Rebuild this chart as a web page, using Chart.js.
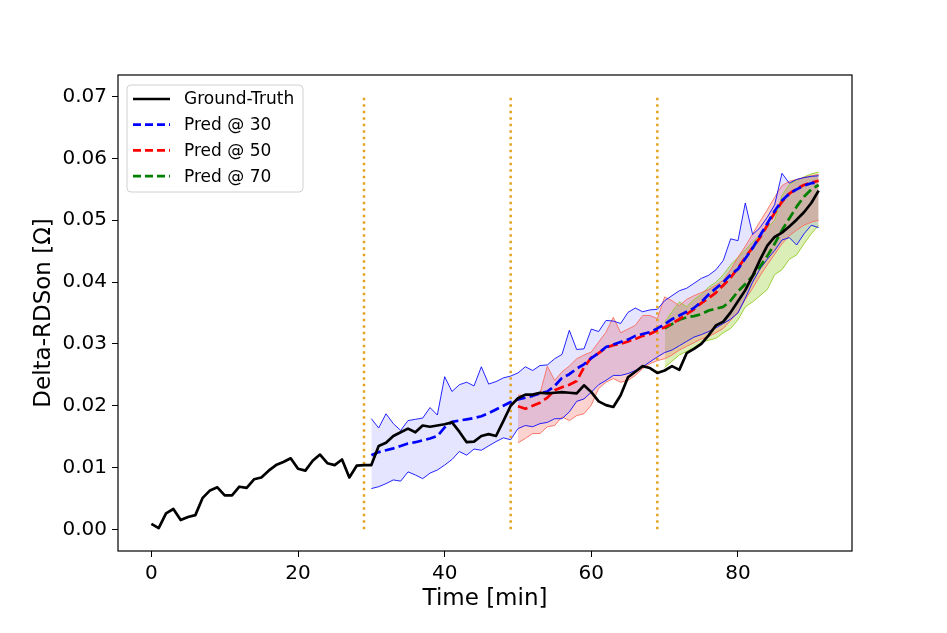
<!DOCTYPE html>
<html>
<head>
<meta charset="utf-8">
<script src="https://cdn.jsdelivr.net/npm/chart.js@4.4.0/dist/chart.umd.min.js"></script>
<style>
  body { margin: 0; background: #fff; }
  #wrap { width: 947px; height: 633px; }
</style>
</head>
<body>
<div id="wrap"><canvas id="grafico" width="947" height="633"></canvas></div>
<script>
// time in minutes
const time = [0,1,2,3,4,5,6,7,8,9,10,11,12,13,14,15,16,17,18,19,20,21,22,23,24,25,26,27,28,29,
  30,31,32,33,34,35,36,37,38,39,40,41,42,43,44,45,46,47,48,49,50,51,52,53,54,55,56,57,58,59,
  60,61,62,63,64,65,66,67,68,69,70,71,72,73,74,75,76,77,78,79,80,81,82,83,84,85,86,87,88,89,90,91];

const groundTruth = [0.0009,0.0002,0.0026,0.0033,0.0015,0.0020,0.0023,0.0051,0.0063,0.0068,
  0.0055,0.0055,0.0069,0.0067,0.0081,0.0084,0.0095,0.0104,0.0109,0.0115,
  0.0098,0.0095,0.0111,0.0121,0.0107,0.0104,0.0113,0.0084,0.0103,0.0104,
  0.0104,0.0135,0.0140,0.0151,0.0157,0.0163,0.0157,0.0168,0.0166,0.0168,
  0.0170,0.0173,0.0158,0.0141,0.0142,0.0151,0.0154,0.0151,0.0175,0.0200,
  0.0212,0.0218,0.0218,0.0221,0.0220,0.0221,0.0222,0.0221,0.0220,0.0233,
  0.0222,0.0207,0.0201,0.0198,0.0217,0.0246,0.0255,0.0264,0.0261,0.0253,
  0.0257,0.0264,0.0258,0.0285,0.0292,0.0300,0.0314,0.0330,0.0336,0.0351,
  0.0369,0.0387,0.0410,0.0436,0.0459,0.0473,0.0480,0.0490,0.0501,0.0513,
  0.0528,0.0548];

// Pred @ 30 (from t = 30)
const start30 = 30;
const pred30 = [0.0120,0.0125,0.0128,0.0131,0.0135,0.0139,0.0141,0.0144,0.0147,0.0151,
  0.0165,0.0174,0.0176,0.0178,0.0180,0.0183,0.0188,0.0194,0.0200,0.0206,
  0.0210,0.0213,0.0216,0.0220,0.0223,0.0232,0.0245,0.0251,0.0260,0.0267,
  0.0277,0.0285,0.0295,0.0299,0.0303,0.0307,0.0313,0.0316,0.0319,0.0325,
  0.0332,0.0340,0.0346,0.0352,0.0358,0.0368,0.0380,0.0390,0.0400,0.0412,
  0.0421,0.0438,0.0455,0.0475,0.0495,0.0515,0.0532,0.0543,0.0550,0.0556,
  0.0560,0.0561];
const pred30Upper = [0.0179,0.0164,0.0187,0.0171,0.0160,0.0176,0.0178,0.0180,0.0197,0.0185,
  0.0247,0.0223,0.0234,0.0238,0.0232,0.0263,0.0235,0.0239,0.0245,0.0248,
  0.0253,0.0263,0.0257,0.0265,0.0266,0.0276,0.0283,0.0322,0.0291,0.0292,
  0.0324,0.0320,0.0338,0.0337,0.0333,0.0351,0.0358,0.0352,0.0355,0.0356,
  0.0370,0.0378,0.0386,0.0390,0.0398,0.0406,0.0411,0.0420,0.0435,0.0470,
  0.0467,0.0528,0.0477,0.0488,0.0505,0.0525,0.0576,0.0560,0.0566,0.0569,
  0.0571,0.0572];
const pred30Lower = [0.0066,0.0069,0.0074,0.0080,0.0078,0.0093,0.0088,0.0082,0.0091,0.0096,
  0.0104,0.0113,0.0126,0.0120,0.0130,0.0128,0.0135,0.0142,0.0148,0.0145,
  0.0163,0.0168,0.0166,0.0171,0.0173,0.0179,0.0179,0.0190,0.0207,0.0211,
  0.0222,0.0234,0.0241,0.0249,0.0249,0.0252,0.0257,0.0263,0.0271,0.0279,
  0.0286,0.0290,0.0297,0.0304,0.0311,0.0315,0.0320,0.0326,0.0333,0.0340,
  0.0350,0.0374,0.0400,0.0421,0.0437,0.0451,0.0468,0.0472,0.0460,0.0478,
  0.0492,0.0488];

// Pred @ 50 (from t = 50)
const start50 = 50;
const pred50 = [0.0199,0.0195,0.0200,0.0205,0.0213,0.0225,0.0230,0.0234,0.0240,0.0262,
  0.0278,0.0285,0.0294,0.0298,0.0300,0.0304,0.0308,0.0313,0.0316,0.0322,
  0.0327,0.0333,0.0340,0.0348,0.0356,0.0366,0.0374,0.0383,0.0395,0.0407,
  0.0423,0.0440,0.0456,0.0472,0.0492,0.0512,0.0530,0.0543,0.0551,0.0557,
  0.0561,0.0564];
const pred50Upper = [0.0217,0.0217,0.0217,0.0220,0.0264,0.0241,0.0255,0.0264,0.0276,0.0282,
  0.0287,0.0303,0.0319,0.0343,0.0318,0.0324,0.0330,0.0346,0.0346,0.0341,
  0.0376,0.0370,0.0362,0.0372,0.0378,0.0383,0.0388,0.0395,0.0403,0.0420,
  0.0440,0.0458,0.0478,0.0498,0.0517,0.0537,0.0556,0.0563,0.0566,0.0569,
  0.0572,0.0574];
const pred50Lower = [0.0140,0.0147,0.0155,0.0155,0.0166,0.0168,0.0182,0.0176,0.0184,0.0187,
  0.0201,0.0228,0.0238,0.0244,0.0238,0.0241,0.0249,0.0260,0.0268,0.0273,
  0.0276,0.0282,0.0290,0.0296,0.0302,0.0308,0.0312,0.0318,0.0325,0.0338,
  0.0352,0.0372,0.0390,0.0410,0.0428,0.0445,0.0462,0.0475,0.0484,0.0492,
  0.0497,0.0500];

// Pred @ 70 (from t = 70)
const start70 = 70;
const pred70 = [0.0325,0.0332,0.0339,0.0343,0.0345,0.0348,0.0354,0.0357,0.0360,0.0370,
  0.0385,0.0397,0.0410,0.0425,0.0442,0.0462,0.0484,0.0503,0.0522,0.0538,
  0.0550,0.0557];
const pred70Upper = [0.0335,0.0352,0.0368,0.0360,0.0372,0.0380,0.0392,0.0400,0.0412,0.0428,
  0.0440,0.0452,0.0465,0.0476,0.0488,0.0500,0.0540,0.0558,0.0565,0.0570,
  0.0575,0.0578];
const pred70Lower = [0.0262,0.0272,0.0282,0.0288,0.0294,0.0303,0.0306,0.0309,0.0318,0.0325,
  0.0339,0.0360,0.0368,0.0378,0.0388,0.0412,0.0420,0.0437,0.0444,0.0462,
  0.0478,0.0492];

// dotted markers where each prediction starts
const markerTimes = [29, 49, 69];
const markerRange = [0, 0.07];

const xTicks = [0, 20, 40, 60, 80];
const yTicks = [0, 0.01, 0.02, 0.03, 0.04, 0.05, 0.06, 0.07];

function pontos(valores, inicio) {
  return valores.map((v, i) => ({ x: time[inicio + i], y: v }));
}

const fonte = 'DejaVu Sans';
Chart.defaults.font.family = fonte;
Chart.defaults.color = '#000';

function linha(label, dados, cor, tracejado) {
  return {
    label: label, data: dados, borderColor: cor, borderWidth: 2.7,
    borderDash: tracejado ? [10, 4.3] : [], borderJoinStyle: 'round',
    pointRadius: 0, fill: false, tension: 0, inLegend: true
  };
}

function banda(dados, corLinha, corFundo, preenche) {
  return {
    data: dados, borderColor: corLinha, borderWidth: 1, backgroundColor: corFundo,
    pointRadius: 0, fill: preenche, tension: 0
  };
}

const datasets = [
  linha('Ground-Truth', pontos(groundTruth, 0), '#000000', false),
  linha('Pred @ 30', pontos(pred30, start30), '#0000ff', true),
  linha('Pred @ 50', pontos(pred50, start50), '#ff0000', true),
  linha('Pred @ 70', pontos(pred70, start70), '#008000', true)
];
markerTimes.forEach(t => {
  datasets.push({
    data: markerRange.map(v => ({ x: t, y: v })), borderColor: '#e3a322',
    borderWidth: 2.5, borderDash: [2.5, 4], borderCapStyle: 'butt',
    pointRadius: 0, fill: false
  });
});
datasets.push(
  banda(pontos(pred30Upper, start30), 'rgba(0,0,255,0.85)', 'rgba(0,0,255,0.1)', '+1'),
  banda(pontos(pred30Lower, start30), 'rgba(0,0,255,0.85)', 'transparent', false),
  banda(pontos(pred50Upper, start50), 'rgba(250,110,95,0.9)', 'rgba(250,110,100,0.3)', '+1'),
  banda(pontos(pred50Lower, start50), 'rgba(250,110,95,0.9)', 'transparent', false),
  banda(pontos(pred70Upper, start70), 'rgba(154,205,50,0.95)', 'rgba(154,205,50,0.35)', '+1'),
  banda(pontos(pred70Lower, start70), 'rgba(154,205,50,0.95)', 'transparent', false)
);

// frame around the plot area
const moldura = {
  id: 'moldura',
  afterDraw(chart) {
    const a = chart.chartArea, ctx = chart.ctx;
    ctx.save();
    ctx.strokeStyle = '#000';
    ctx.lineWidth = 1.2;
    ctx.strokeRect(a.left, a.top, a.right - a.left, a.bottom - a.top);
    ctx.restore();
  }
};

// legend box drawn inside the plot, upper left
const legenda = {
  id: 'legenda',
  afterDraw(chart) {
    const a = chart.chartArea, ctx = chart.ctx;
    const itens = chart.data.datasets.filter(d => d.inLegend);
    const x0 = a.left + 9, y0 = a.top + 10, passo = 25.7;
    ctx.save();
    ctx.beginPath();
    ctx.roundRect(x0, y0, 176, 107, 4);
    ctx.fillStyle = 'rgba(255,255,255,0.85)';
    ctx.fill();
    ctx.strokeStyle = '#d0d0d0';
    ctx.lineWidth = 1;
    ctx.stroke();
    ctx.font = '17px "' + fonte + '"';
    ctx.textBaseline = 'middle';
    itens.forEach((d, i) => {
      const y = y0 + 14 + i * passo;
      ctx.beginPath();
      ctx.setLineDash(d.borderDash.length ? [8, 4] : []);
      ctx.strokeStyle = d.borderColor;
      ctx.lineWidth = d.borderWidth;
      ctx.moveTo(x0 + 6, y);
      ctx.lineTo(x0 + 43, y);
      ctx.stroke();
      ctx.setLineDash([]);
      ctx.fillStyle = '#000';
      ctx.fillText(d.label, x0 + 57, y + 1);
    });
    ctx.restore();
  }
};

const ctx = document.getElementById('grafico').getContext('2d');
new Chart(ctx, {
  type: 'line',
  data: { datasets: datasets },
  options: {
    responsive: false,
    animation: false,
    devicePixelRatio: 1,
    layout: { padding: { left: 0, top: 75, right: 95, bottom: 0 } },
    plugins: {
      legend: { display: false },
      tooltip: { enabled: false },
      filler: { drawTime: 'beforeDatasetsDraw' }
    },
    scales: {
      x: {
        type: 'linear', min: -4.55, max: 95.55,
        afterBuildTicks: s => { s.ticks = xTicks.map(v => ({ value: v })); },
        afterFit: s => { s.height = 82; },
        ticks: { font: { size: 20 }, color: '#000', padding: 5, autoSkip: false, maxRotation: 0 },
        grid: { drawOnChartArea: false, drawTicks: true, tickLength: 6, color: '#000', lineWidth: 1 },
        border: { display: false },
        title: { display: true, text: 'Time [min]', font: { size: 23 }, color: '#000', padding: { top: 0, bottom: 20 } }
      },
      y: {
        min: -0.0035, max: 0.0735,
        afterBuildTicks: s => { s.ticks = yTicks.map(v => ({ value: v })); },
        afterFit: s => { s.width = 118; },
        ticks: { font: { size: 20 }, color: '#000', padding: 5, autoSkip: false, callback: v => v.toFixed(2) },
        grid: { drawOnChartArea: false, drawTicks: true, tickLength: 6, color: '#000', lineWidth: 1 },
        border: { display: false },
        title: { display: true, text: 'Delta-RDSon [Ω]', font: { size: 23 }, color: '#000', padding: { top: 30, bottom: 0 } }
      }
    }
  },
  plugins: [moldura, legenda]
});
</script>
</body>
</html>
